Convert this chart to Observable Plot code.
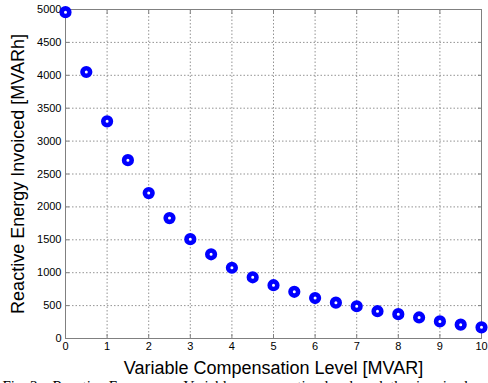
<!DOCTYPE html>
<html>
<head>
<meta charset="utf-8">
<script src="https://cdn.jsdelivr.net/npm/d3@7"></script>
<script src="https://cdn.jsdelivr.net/npm/@observablehq/plot@0.6"></script>
<style>
  html, body { margin: 0; padding: 0; background: #fff; overflow: hidden; }
  #chart svg { display: block; overflow: visible; }
</style>
</head>
<body>
<div id="chart"></div>
<script>
const levels = [0, 0.5, 1, 1.5, 2, 2.5, 3, 3.5, 4, 4.5, 5, 5.5, 6, 6.5, 7, 7.5, 8, 8.5, 9, 9.5, 10];
const energy = [4960, 4050, 3300, 2710, 2210, 1830, 1510, 1280, 1075, 930, 810, 710, 615, 545, 490, 415, 370, 320, 260, 210, 170];
const xTicks = [0, 1, 2, 3, 4, 5, 6, 7, 8, 9, 10];
const yTicks = [0, 500, 1000, 1500, 2000, 2500, 3000, 3500, 4000, 4500, 5000];
const xLabel = "Variable Compensation Level [MVAR]";
const yLabel = "Reactive Energy Invoiced [MVARh]";
const caption = ["Fig. 3.   Reactive Energy  vs.  Variable compensation level  and  the  invoiced"];

const data = levels.map((x, i) => ({x, y: energy[i]}));

const plot = Plot.plot({
  width: 488,
  height: 383,
  marginLeft: 65,
  marginRight: 7,
  marginTop: 9,
  marginBottom: 45,
  style: {fontFamily: "Liberation Sans, Arial, sans-serif", fontSize: "11px", color: "#000", background: "#fff"},
  x: {domain: [0, 10], ticks: xTicks, label: null},
  y: {domain: [0, 5000], ticks: yTicks, label: null},
  marks: [
    Plot.gridX(xTicks, {stroke: "#777", strokeOpacity: 1, strokeDasharray: "1.5,2", strokeWidth: 0.8}),
    Plot.gridY(yTicks, {stroke: "#777", strokeOpacity: 1, strokeDasharray: "1.5,2", strokeWidth: 0.8}),
    Plot.frame({stroke: "#808080", strokeWidth: 1}),
    Plot.axisX(xTicks, {tickSize: -4, stroke: "#808080", tickPadding: 8, fontSize: 11, fill: "#000", tickFormat: d => String(d)}),
    Plot.axisY(yTicks, {tickSize: -4, stroke: "#808080", tickPadding: 8, fontSize: 11, fill: "#000", tickFormat: d => String(d)}),
    Plot.axisY(yTicks, {anchor: "right", tickSize: -4, stroke: "#808080", tickFormat: () => ""}),
    Plot.axisX(xTicks, {anchor: "top", tickSize: -4, stroke: "#808080", tickFormat: () => ""}),
    Plot.dot(data, {x: "x", y: "y", r: 3.8, stroke: "#0000ff", strokeWidth: 4.6, fill: "#fff"}),
    Plot.text([xLabel], {frameAnchor: "bottom", dy: 35, fontSize: 18, fill: "#000"}),
    Plot.text([yLabel], {frameAnchor: "left", textAnchor: "middle", dx: -47, rotate: -90, fontSize: 18, fill: "#000"}),
    Plot.text(caption, {frameAnchor: "bottom-left", dx: -63, dy: 52, textAnchor: "start", fontSize: 15, fill: "#000", fontFamily: "Liberation Serif, Times New Roman, serif"})
  ]
});
document.getElementById("chart").appendChild(plot);
</script>
</body>
</html>
